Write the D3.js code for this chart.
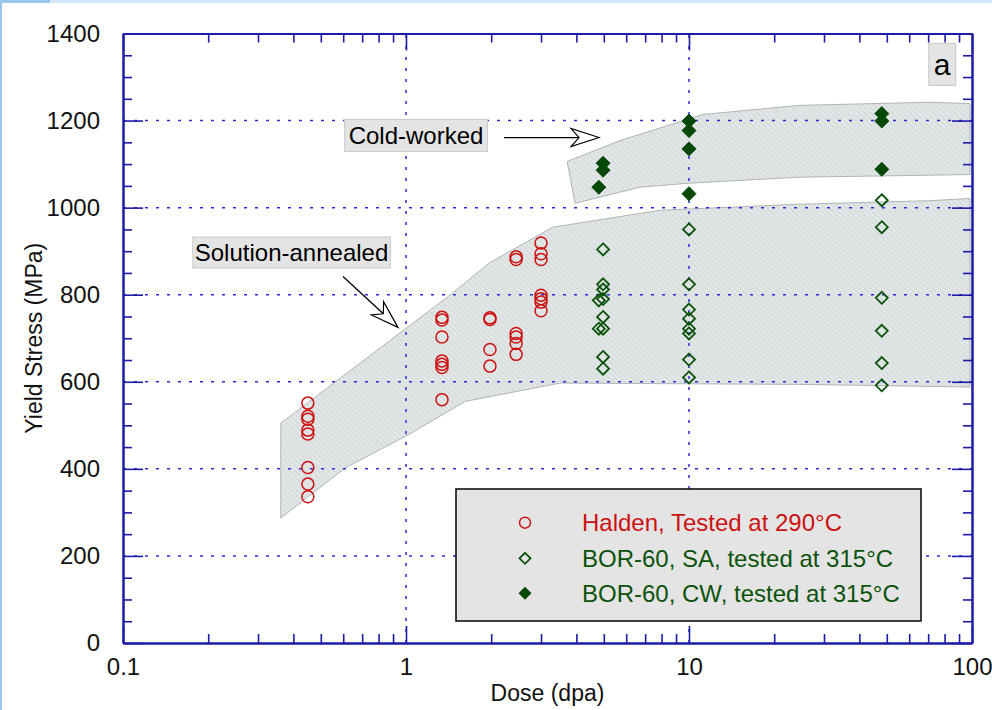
<!DOCTYPE html>
<html><head><meta charset="utf-8">
<script src="https://cdn.jsdelivr.net/npm/d3@7"></script>
<style>
html,body{margin:0;padding:0;background:#fff;}
svg{display:block;font-family:"Liberation Sans",Arial,sans-serif;}
</style></head>
<body>
<svg id="chart" width="992" height="710"></svg>
<script>
// ---------- data ----------
const xTickLabels = ["0.1","1","10","100"];
const xMajor = [0.1, 1, 10, 100];
const yMajor = [0,200,400,600,800,1000,1200,1400];

// Halden, tested at 290°C (dose dpa, yield stress MPa)
const haldenDose   = [0.45,0.45,0.45,0.45,0.45,0.45,0.45,0.45,
                      1.34,1.34,1.34,1.34,1.34,1.34,1.34,
                      1.98,1.98,1.98,1.98,
                      2.45,2.45,2.45,2.45,2.45,2.45,
                      3.0,3.0,3.0,3.0,3.0,3.0,3.0];
const haldenStress = [551,521,514,489,480,403,365,336,
                      748,742,703,648,640,633,559,
                      747,743,674,636,
                      887,881,711,703,688,663,
                      919,894,881,799,791,783,763];

// BOR-60, SA, tested at 315°C
const saDose   = [4.97,4.97,4.97,4.8,4.97,4.97,4.8,4.97,4.97,4.97,
                  10,10,10,10,10,10,10,10,
                  48,48,48,48,48,48];
const saStress = [904,824,812,787,790,749,722,722,657,630,
                  950,824,766,745,722,711,651,610,
                  1017,955,793,717,643,592];

// BOR-60, CW, tested at 315°C
const cwDose   = [4.97,4.97,4.8, 10,10,10,10, 48,48,48];
const cwStress = [1102,1086,1047, 1199,1177,1135,1032, 1216,1199,1088];

// scatter bands (dose, stress)
const saBandDose   = [0.361,0.585,1.43,1.98,3.30,7.9,24.7,71,98.4, 98.4,24.7,3.5,1.62,1.01,0.609,0.361];
const saBandStress = [505,608,799,874,955,994,1008,1016,1021, 588,594,597,555,477,402,287];
const cwBandDose   = [3.71,5.70,11.2,24.7,71,98.4, 98.4,24.7,9.92,6.71,3.96];
const cwBandStress = [1106,1154,1214,1235,1242,1239, 1076,1070,1056,1047,1010];

const legendLabels = ["Halden, Tested at 290°C","BOR-60, SA, tested at 315°C","BOR-60, CW, tested at 315°C"];

// ---------- setup ----------
const svg = d3.select("#chart");
const x = d3.scaleLog().domain([0.1,100]).range([123,972]);
const y = d3.scaleLinear().domain([0,1400]).range([643,33.5]);
const AX = "#1c1ca8", GRID = "#2a2ad6", RED = "#cc1111", GREEN = "#0b520b";
const FS = 24;

// window frame strips
svg.append("rect").attr("x",0).attr("y",0).attr("width",992).attr("height",3).attr("fill","#d4e6f8");
svg.append("rect").attr("x",0).attr("y",0).attr("width",50).attr("height",3).attr("fill","#9cc6f0");
svg.append("rect").attr("x",0).attr("y",0).attr("width",2).attr("height",710).attr("fill","#9cc6f0");

// hatch pattern
const defs = svg.append("defs");
const pat = defs.append("pattern").attr("id","hatch").attr("patternUnits","userSpaceOnUse")
  .attr("width",4).attr("height",4).attr("patternTransform","rotate(45)");
pat.append("rect").attr("width",4).attr("height",4).attr("fill","#e1e5e5");
pat.append("line").attr("x1",0).attr("y1",0).attr("x2",4).attr("y2",0).attr("stroke","#cbd3d3").attr("stroke-width",1.2);

// bands
const line = d3.line().x(d=>x(d[0])).y(d=>y(d[1]));
function band(ds, ss){
  const pts = ds.map((d,i)=>[d, ss[i]]);
  svg.append("path").attr("d", line(pts)+"Z").attr("fill","url(#hatch)")
    .attr("stroke","#b0b4b4").attr("stroke-width",1);
}
band(saBandDose, saBandStress);
band(cwBandDose, cwBandStress);

// grid lines
const gridY = [200,400,600,800,1000,1200];
svg.append("g").selectAll("line").data(gridY).join("line")
  .attr("x1",x(0.1)).attr("x2",x(100)).attr("y1",d=>y(d)).attr("y2",d=>y(d))
  .attr("stroke",GRID).attr("stroke-width",1.5).attr("stroke-dasharray","3,8");
svg.append("g").selectAll("line").data([1,10]).join("line")
  .attr("y1",y(0)).attr("y2",y(1400)).attr("x1",d=>x(d)).attr("x2",d=>x(d))
  .attr("stroke",GRID).attr("stroke-width",1.5).attr("stroke-dasharray","3,8");

// axes (ticks inward on all four sides)
const xMinor = [];
[0.1,1,10].forEach(dec=>{for(let k=2;k<=9;k++) xMinor.push(dec*k);});
const yMinor = d3.range(50,1400,50).filter(v=>v%200!==0);

function styleAxis(g){
  g.select(".domain").attr("stroke",AX).attr("stroke-width",2);
  g.selectAll(".tick line").attr("stroke",AX).attr("stroke-width",1.6);
  g.selectAll(".tick text").attr("fill","#111").attr("font-size",FS).attr("font-family","Liberation Sans, Arial, sans-serif");
}
// bottom
const gb = svg.append("g").attr("transform",`translate(0,${y(0)})`)
  .call(d3.axisBottom(x).tickValues(xMajor).tickFormat((d,i)=>xTickLabels[i]).tickSizeInner(-17).tickSizeOuter(0).tickPadding(15));
styleAxis(gb);
svg.append("g").attr("transform",`translate(0,${y(0)})`)
  .call(d3.axisBottom(x).tickValues(xMinor).tickFormat("").tickSizeInner(-9).tickSizeOuter(0)).call(styleAxis);
// top
svg.append("g").attr("transform",`translate(0,${y(1400)})`)
  .call(d3.axisTop(x).tickValues(xMajor).tickFormat("").tickSizeInner(-17).tickSizeOuter(0)).call(styleAxis);
svg.append("g").attr("transform",`translate(0,${y(1400)})`)
  .call(d3.axisTop(x).tickValues(xMinor).tickFormat("").tickSizeInner(-9).tickSizeOuter(0)).call(styleAxis);
// left
const gl = svg.append("g").attr("transform",`translate(${x(0.1)},0)`)
  .call(d3.axisLeft(y).tickValues(yMajor).tickFormat(d3.format("d")).tickSizeInner(-20).tickSizeOuter(0).tickPadding(23));
styleAxis(gl);
svg.append("g").attr("transform",`translate(${x(0.1)},0)`)
  .call(d3.axisLeft(y).tickValues(yMinor).tickFormat("").tickSizeInner(-9).tickSizeOuter(0)).call(styleAxis);
// right
svg.append("g").attr("transform",`translate(${x(100)},0)`)
  .call(d3.axisRight(y).tickValues(yMajor).tickFormat("").tickSizeInner(-20).tickSizeOuter(0)).call(styleAxis);
svg.append("g").attr("transform",`translate(${x(100)},0)`)
  .call(d3.axisRight(y).tickValues(yMinor).tickFormat("").tickSizeInner(-9).tickSizeOuter(0)).call(styleAxis);

// axis titles
svg.append("text").attr("x",(x(0.1)+x(100))/2).attr("y",701).attr("text-anchor","middle")
  .attr("font-size",23).attr("fill","#111").text("Dose (dpa)");
svg.append("text").attr("transform",`translate(42,${(y(0)+y(1400))/2}) rotate(-90)`).attr("text-anchor","middle")
  .attr("font-size",23).attr("fill","#111").text("Yield Stress (MPa)");

// markers
const diamond = s => `M0,${-s}L${s},0L0,${s}L${-s},0Z`;
svg.append("g").selectAll("circle").data(haldenDose).join("circle")
  .attr("cx",d=>x(d)).attr("cy",(d,i)=>y(haldenStress[i])).attr("r",6)
  .attr("fill","none").attr("stroke",RED).attr("stroke-width",1.5);
svg.append("g").selectAll("path").data(saDose).join("path")
  .attr("transform",(d,i)=>`translate(${x(d)},${y(saStress[i])})`).attr("d",diamond(6))
  .attr("fill","none").attr("stroke",GREEN).attr("stroke-width",1.8);
svg.append("g").selectAll("path").data(cwDose).join("path")
  .attr("transform",(d,i)=>`translate(${x(d)},${y(cwStress[i])})`).attr("d",diamond(7))
  .attr("fill","#064806").attr("stroke","#064806").attr("stroke-width",1);

// annotation labels
function labelBox(cx, cy, txt, fs, padX, h){
  const g = svg.append("g");
  const t = g.append("text").attr("x",cx).attr("y",cy).attr("text-anchor","middle")
    .attr("dominant-baseline","central").attr("font-size",fs).attr("fill","#000").text(txt);
  const bb = t.node().getBBox();
  g.insert("rect","text").attr("x",bb.x-padX).attr("y",cy-h/2).attr("width",bb.width+2*padX).attr("height",h)
    .attr("fill","#e4e4e4").attr("stroke","#c8c8c8").attr("stroke-width",1);
}
labelBox(x(1.085), y(1166), "Cold-worked", 24, 4, 32);
labelBox(x(0.394), y(897), "Solution-annealed", 24, 2, 31);
labelBox(x(78.4), y(1329), "a", 30, 5, 42);

// open arrows
function openArrow(x1,y1,x2,y2){
  const ang = Math.atan2(y2-y1,x2-x1);
  const L = 28, W = 9, notch = 20;
  const g = svg.append("g").attr("transform",`translate(${x2},${y2}) rotate(${ang*180/Math.PI})`);
  const len = Math.hypot(x2-x1,y2-y1);
  g.append("line").attr("x1",-len).attr("y1",0).attr("x2",-notch).attr("y2",0).attr("stroke","#000").attr("stroke-width",1.3);
  g.append("path").attr("d",`M0,0L${-L},${-W}L${-notch},0L${-L},${W}Z`).attr("fill","#fff").attr("stroke","#000").attr("stroke-width",1.2);
}
openArrow(x(2.22), y(1161), x(4.81), y(1161));
openArrow(x(0.599), y(842), x(0.937), y(725));

// legend
const lg = svg.append("g");
lg.append("rect").attr("x",456).attr("y",489).attr("width",465).attr("height",132)
  .attr("fill","#e4e4e4").attr("stroke","#111").attr("stroke-width",1.6);
const rowsY = [522.7, 558.3, 593.3];
lg.append("circle").attr("cx",525).attr("cy",rowsY[0]).attr("r",5.5).attr("fill","none").attr("stroke",RED).attr("stroke-width",1.5);
lg.append("path").attr("transform",`translate(525,${rowsY[1]})`).attr("d",diamond(5.5)).attr("fill","none").attr("stroke",GREEN).attr("stroke-width",1.8);
lg.append("path").attr("transform",`translate(525,${rowsY[2]})`).attr("d",diamond(6.5)).attr("fill","#064806");
const legColors = [RED, GREEN, GREEN];
lg.selectAll("text.leg").data(legendLabels).join("text").attr("class","leg")
  .attr("x",582).attr("y",(d,i)=>rowsY[i]).attr("dominant-baseline","central")
  .attr("font-size",FS).attr("fill",(d,i)=>legColors[i]).text(d=>d);
</script>
</body></html>
